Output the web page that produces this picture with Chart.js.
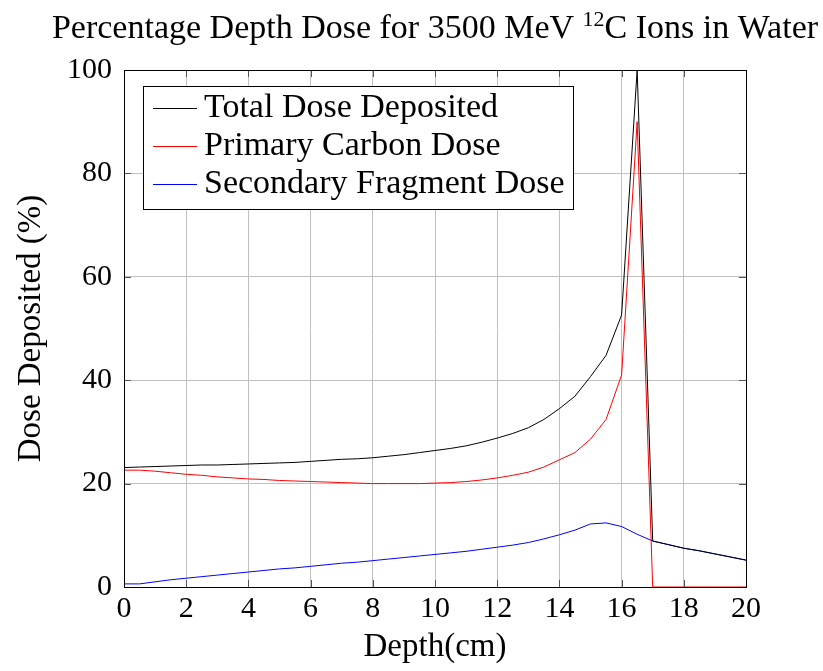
<!DOCTYPE html>
<html>
<head>
<meta charset="utf-8">
<script src="https://cdn.jsdelivr.net/npm/chart.js@4.4.0/dist/chart.umd.min.js"></script>
<style>
  html, body { margin: 0; padding: 0; background: #fff; }
</style>
</head>
<body>
<canvas id="chart" width="823" height="671"></canvas>
<script>
// depth in cm, sampled every 0.5 cm
const depth = [0, 0.5, 1, 1.5, 2, 2.5, 3, 3.5, 4, 4.5, 5, 5.5, 6, 6.5, 7, 7.5, 8, 8.5, 9, 9.5,
  10, 10.5, 11, 11.5, 12, 12.5, 13, 13.5, 14, 14.5, 15, 15.5, 16, 16.5, 17, 17.5, 18, 18.5, 19, 19.5, 20];

const totalDose = [23.1, 23.2, 23.3, 23.4, 23.5, 23.6, 23.6, 23.7, 23.8, 23.9, 24.0, 24.1, 24.3, 24.5, 24.7, 24.8, 25.0, 25.3, 25.6, 26.0,
  26.4, 26.8, 27.3, 28.0, 28.8, 29.7, 30.8, 32.4, 34.5, 36.9, 40.7, 44.8, 52.6, 100, 8.9, 8.2, 7.5, 7.0, 6.4, 5.8, 5.2];

const primaryDose = [22.6, 22.6, 22.4, 22.1, 21.8, 21.6, 21.3, 21.1, 20.9, 20.8, 20.6, 20.5, 20.4, 20.3, 20.2, 20.1, 20.0, 20.0, 20.0, 20.0,
  20.1, 20.2, 20.4, 20.7, 21.1, 21.6, 22.2, 23.2, 24.6, 26.0, 28.6, 32.4, 41.0, 90.0, 0, 0, 0, 0, 0, 0, 0];

const secondaryDose = [0.6, 0.6, 1.0, 1.4, 1.7, 2.0, 2.3, 2.6, 2.9, 3.2, 3.5, 3.7, 4.0, 4.3, 4.6, 4.8, 5.1, 5.4, 5.7, 6.0,
  6.3, 6.6, 6.9, 7.3, 7.7, 8.1, 8.6, 9.3, 10.1, 11.0, 12.2, 12.4, 11.7, 10.2, 8.9, 8.2, 7.5, 7.0, 6.4, 5.8, 5.2];

const seriesNames = ['Total Dose Deposited', 'Primary Carbon Dose', 'Secondary Fragment Dose'];
const seriesColors = ['#000000', '#ff0000', '#0000ff'];
const xTicks = [0, 2, 4, 6, 8, 10, 12, 14, 16, 18, 20];
const yTicks = [0, 20, 40, 60, 80, 100];

// title pieces: text before superscript, superscript, text after
const titleParts = ['Percentage Depth Dose for 3500 MeV ', '12', 'C Ions in Water'];

const serif = "'Liberation Serif', 'DejaVu Serif', serif";

const toPoints = vals => depth.map((d, i) => ({ x: d, y: vals[i] }));

// title with a real superscript, centred over the plot area
const titlePlugin = {
  id: 'supTitle',
  afterDraw(chart) {
    const { ctx, chartArea: a } = chart;
    const big = '34px ' + serif, small = '22px ' + serif;
    ctx.save();
    ctx.fillStyle = '#000';
    ctx.textBaseline = 'alphabetic';
    ctx.font = big;
    const w1 = ctx.measureText(titleParts[0]).width;
    const w3 = ctx.measureText(titleParts[2]).width;
    ctx.font = small;
    const w2 = ctx.measureText(titleParts[1]).width;
    let x = (a.left + a.right) / 2 - (w1 + w2 + w3) / 2;
    const base = 38;
    ctx.font = big;
    ctx.fillText(titleParts[0], x, base);
    x += w1;
    ctx.font = small;
    ctx.fillText(titleParts[1], x, base - 12);
    x += w2;
    ctx.font = big;
    ctx.fillText(titleParts[2], x, base);
    ctx.restore();
  }
};

// frame + inward tick marks (pgfplots style)
const framePlugin = {
  id: 'frame',
  afterDatasetsDraw(chart) {
    const { ctx, chartArea: a, scales } = chart;
    ctx.save();
    ctx.strokeStyle = '#555';
    ctx.lineWidth = 1;
    ctx.beginPath();
    xTicks.forEach(t => {
      const px = Math.round(scales.x.getPixelForValue(t)) + 0.5;
      ctx.moveTo(px, a.bottom); ctx.lineTo(px, a.bottom - 7);
      ctx.moveTo(px, a.top); ctx.lineTo(px, a.top + 7);
    });
    yTicks.forEach(t => {
      const py = Math.round(scales.y.getPixelForValue(t)) + 0.5;
      ctx.moveTo(a.left, py); ctx.lineTo(a.left + 7, py);
      ctx.moveTo(a.right, py); ctx.lineTo(a.right - 7, py);
    });
    ctx.stroke();
    ctx.strokeStyle = '#000';
    ctx.strokeRect(Math.round(a.left) + 0.5, Math.round(a.top) + 0.5,
      Math.round(a.right - a.left), Math.round(a.bottom - a.top));
    ctx.restore();
  }
};

// legend box inside the plot, top-left
const boxLegend = {
  id: 'boxLegend',
  afterDraw(chart) {
    const { ctx, chartArea: a } = chart;
    const x0 = a.left + 19, y0 = a.top + 16, w = 430, h = 123;
    ctx.save();
    ctx.fillStyle = '#fff';
    ctx.fillRect(x0, y0, w, h);
    ctx.strokeStyle = '#000';
    ctx.lineWidth = 1;
    ctx.strokeRect(x0 + 0.5, y0 + 0.5, w, h);
    ctx.font = '34px ' + serif;
    ctx.textBaseline = 'middle';
    seriesNames.forEach((name, i) => {
      const y = y0 + 22 + i * 38;
      ctx.strokeStyle = seriesColors[i];
      ctx.beginPath();
      ctx.moveTo(x0 + 10, y + 0.5);
      ctx.lineTo(x0 + 54, y + 0.5);
      ctx.stroke();
      ctx.fillStyle = '#000';
      ctx.fillText(name, x0 + 61, y);
    });
    ctx.restore();
  }
};

new Chart(document.getElementById('chart'), {
  type: 'line',
  data: {
    datasets: [totalDose, primaryDose, secondaryDose].map((vals, i) => ({
      label: seriesNames[i],
      data: toPoints(vals),
      borderColor: seriesColors[i],
      borderWidth: 1,
      pointRadius: 0,
      tension: 0,
      fill: false
    }))
  },
  options: {
    responsive: false,
    animation: false,
    layout: { padding: { left: 0, right: 77, top: 70, bottom: 0 } },
    plugins: {
      legend: { display: false },
      tooltip: { enabled: false },
      title: { display: false }
    },
    scales: {
      x: {
        type: 'linear',
        min: 0, max: 20,
        afterFit: s => { s.height = 84; },
        afterBuildTicks: s => { s.ticks = xTicks.map(v => ({ value: v })); },
        ticks: { color: '#000', padding: 4, font: { family: serif, size: 30 } },
        grid: { color: '#c0c0c0', drawTicks: false },
        border: { display: false },
        title: { display: true, text: 'Depth(cm)', color: '#000', padding: { top: 0, bottom: 4 },
          font: { family: serif, size: 33 } }
      },
      y: {
        min: 0, max: 100,
        afterFit: s => { s.width = 124; },
        afterBuildTicks: s => { s.ticks = yTicks.map(v => ({ value: v })); },
        ticks: { color: '#000', padding: 12, font: { family: serif, size: 30 } },
        grid: { color: '#c0c0c0', drawTicks: false },
        border: { display: false },
        title: { display: true, text: 'Dose Deposited (%)', color: '#000', padding: { top: 12, bottom: 0 },
          font: { family: serif, size: 33 } }
      }
    }
  },
  plugins: [framePlugin, boxLegend, titlePlugin]
});
</script>
</body>
</html>
